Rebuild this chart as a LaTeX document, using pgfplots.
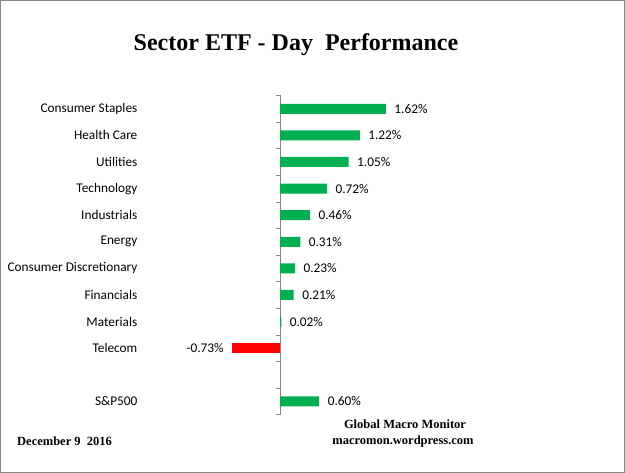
\documentclass[border=0pt]{standalone}
\usepackage{fontspec}
\setmainfont{Carlito}
\newfontfamily\timesfont{Liberation Serif}
\usepackage{pgfplots}
\pgfplotsset{compat=1.18}
\definecolor{barGreen}{HTML}{00B050}
\definecolor{barRed}{HTML}{FF0000}
\definecolor{frameGray}{HTML}{868686}

\begin{document}
\begin{tikzpicture}
\useasboundingbox (0,0) rectangle (625pt,473pt);
\draw[frameGray, line width=1.2pt] (0.6pt,0.6pt) rectangle (624.4pt,472.4pt);

% title and footer
\node[font=\timesfont\bfseries\fontsize{24}{28}\selectfont] at (296pt,428pt) {Sector ETF - Day\ \ Performance};
\node[anchor=west, inner sep=0pt, font=\timesfont\bfseries\fontsize{12.5}{15}\selectfont] at (17pt,31.3pt) {December 9\ \ 2016};
\node[inner sep=0pt, font=\timesfont\bfseries\fontsize{12.5}{15}\selectfont] at (405pt,48.3pt) {Global Macro Monitor};
\node[inner sep=0pt, font=\timesfont\bfseries\fontsize{12.5}{15}\selectfont] at (403pt,31.3pt) {macromon.wordpress.com};

\begin{axis}[
  at={(142.66pt,377.5pt)}, anchor=north west,
  x=65.4pt, y=26.6pt, y dir=reverse,
  xmin=-2.1, xmax=1.7, ymin=-0.5, ymax=11.5,
  xbar, bar width=10pt, bar shift=0pt,
  axis line style={draw=none},
  xtick=\empty,
  ytick={0,...,9,11},
  yticklabels={Consumer Staples, Health Care, Utilities, Technology, Industrials, Energy, Consumer Discretionary, Financials, Materials, Telecom, S\&P500},
  ytick style={draw=none},
  yticklabel style={font=\fontsize{13.3}{16}\selectfont, anchor=east, xshift=2.5pt},
  clip=false,
  point meta=x,
  nodes near coords={\pgfmathprintnumber[fixed,fixed zerofill,precision=2,assume math mode=true]{\pgfplotspointmeta}\%},
  every node near coord/.append style={font=\fontsize{13.3}{16}\selectfont, text=black},
]
% vertical axis line with ticks between categories
\draw[frameGray] (axis cs:0,-0.5) -- (axis cs:0,11.5);
\pgfplotsinvokeforeach{-0.5,0.5,...,11.5}{\draw[frameGray] (axis cs:0,#1) -- ([xshift=-4pt]axis cs:0,#1);}

\addplot[fill=barGreen, draw=none, every node near coord/.append style={anchor=west, xshift=5pt}]
  coordinates {(1.62,0) (1.22,1) (1.05,2) (0.72,3) (0.46,4) (0.31,5) (0.23,6) (0.21,7) (0.02,8) (0.60,11)};
\addplot[fill=barRed, draw=none, every node near coord/.append style={anchor=east, xshift=-5pt}]
  coordinates {(-0.73,9)};
\end{axis}
\end{tikzpicture}
\end{document}
